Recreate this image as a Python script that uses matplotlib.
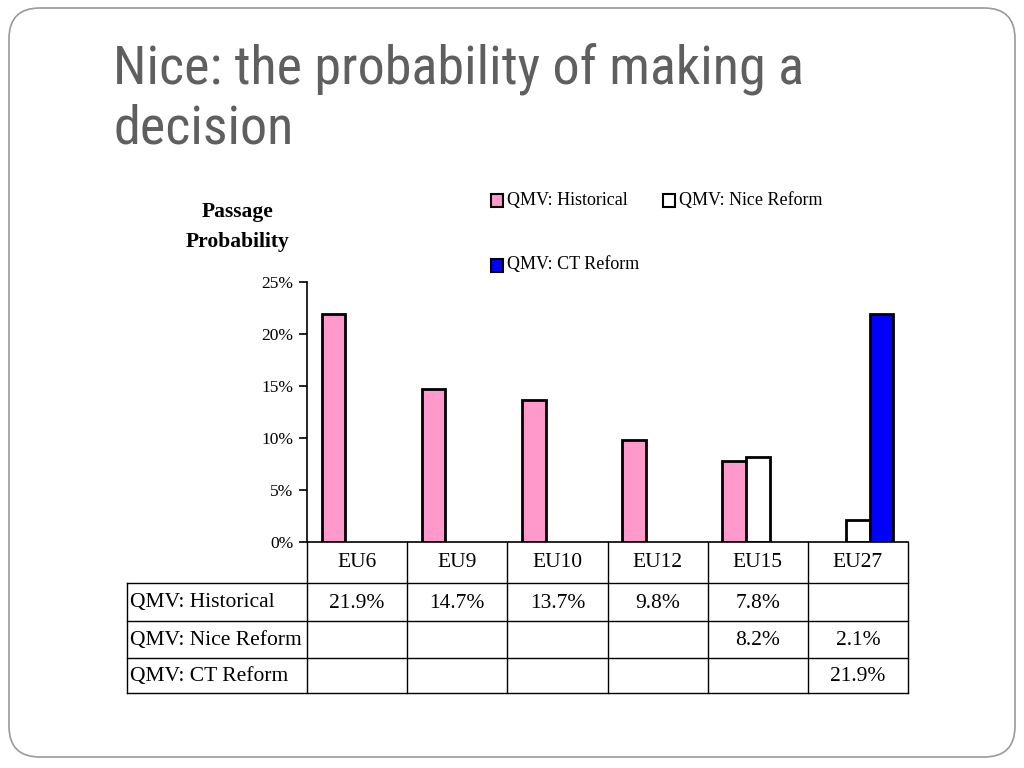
import matplotlib
matplotlib.use("Agg")
import matplotlib.pyplot as plt
from matplotlib.patches import FancyBboxPatch
from matplotlib import font_manager
import numpy as np

categories = ["EU6", "EU9", "EU10", "EU12", "EU15", "EU27"]
series_names = ["QMV: Historical", "QMV: Nice Reform", "QMV: CT Reform"]
historical = [21.9, 14.7, 13.7, 9.8, 7.8, None]
nice_reform = [None, None, None, None, 8.2, 2.1]
ct_reform = [None, None, None, None, None, 21.9]
yticks = [0, 5, 10, 15, 20, 25]
colors = ["#FF99CC", "#FFFFFF", "#0000FF"]

W, H = 1024, 768
fig = plt.figure(figsize=(W / 100, H / 100), dpi=100)

def fx(px):
    return px / W

def fy(py):
    return 1 - py / H

# slide border
border = FancyBboxPatch((fx(9), fy(757)), fx(1006), 749 / H,
                        boxstyle="round,pad=0,rounding_size=0.03",
                        transform=fig.transFigure, fill=False,
                        edgecolor="#9a9a9a", linewidth=1.2, mutation_aspect=W / H)
fig.patches.append(border)

installed = {f.name for f in font_manager.fontManager.ttflist}
title_font = [f for f in ["Roboto Condensed", "Liberation Sans Narrow", "Roboto"] if f in installed] + ["DejaVu Sans"]
tsize = 39 if title_font[0] in ("Roboto Condensed", "Liberation Sans Narrow") else 34
fig.text(fx(113), fy(84), "Nice: the probability of making a", fontsize=tsize,
         color="#5f5f5f", family=title_font, va="baseline", ha="left")
fig.text(fx(113), fy(143), "decision", fontsize=tsize,
         color="#5f5f5f", family=title_font, va="baseline", ha="left")

serif = ["Liberation Serif", "DejaVu Serif"]

ax_l, ax_r, ax_t, ax_b = 307, 908, 282, 542
ax = fig.add_axes([fx(ax_l), fy(ax_b), fx(ax_r - ax_l), (ax_b - ax_t) / H])
x = np.arange(len(categories))
bw = 0.235
all_series = [historical, nice_reform, ct_reform]
for i, (vals, c, name) in enumerate(zip(all_series, colors, series_names)):
    xs = [x[j] + (i - 1) * bw for j, v in enumerate(vals) if v is not None]
    vs = [v for v in vals if v is not None]
    ax.bar(xs, vs, width=bw, color=c, edgecolor="black", linewidth=2, label=name)

ax.set_xlim(-0.5, len(categories) - 0.5)
ax.set_ylim(0, 25)
ax.set_yticks(yticks)
ax.set_yticklabels([f"{t}%" for t in yticks], family=serif, fontsize=12.5)
ax.set_xticks([])
for s in ["top", "right"]:
    ax.spines[s].set_visible(False)
ax.spines["left"].set_linewidth(1.2)
ax.spines["bottom"].set_linewidth(1.2)
ax.tick_params(axis="y", length=5.8, width=1.2, pad=4)
ax.patch.set_alpha(0)

# y-axis title
fig.text(fx(238), fy(217), "Passage", family=serif, fontsize=15.5, fontweight="bold",
         ha="center", va="baseline")
fig.text(fx(238), fy(247), "Probability", family=serif, fontsize=15.5, fontweight="bold",
         ha="center", va="baseline")

# legend (manual placement to match)
leg_items = [(491, 200, 0), (663, 200, 1), (491, 265, 2)]
for lx, ly, k in leg_items:
    fig.patches.append(plt.Rectangle((fx(lx), fy(ly + 7)), fx(12), 13 / H,
                                     transform=fig.transFigure, facecolor=colors[k],
                                     edgecolor="black", linewidth=1.5))
    fig.text(fx(lx + 16), fy(ly), series_names[k], family=serif, fontsize=13,
             ha="left", va="center")

# data table
tab_left = 127
col_w = (ax_r - ax_l) / len(categories)
row_y = [542, 583, 621, 658, 693]
lw = 1.0
for j in range(len(categories) + 1):
    xx = ax_l + j * col_w
    fig.add_artist(plt.Line2D([fx(xx), fx(xx)], [fy(row_y[0]), fy(row_y[-1])],
                              color="black", linewidth=lw))
fig.add_artist(plt.Line2D([fx(tab_left), fx(tab_left)], [fy(row_y[1]), fy(row_y[-1])],
                          color="black", linewidth=lw))
for r in range(1, len(row_y)):
    fig.add_artist(plt.Line2D([fx(tab_left), fx(ax_r)], [fy(row_y[r]), fy(row_y[r])],
                              color="black", linewidth=lw))
tfs = 15.5
for j, cat in enumerate(categories):
    cx = ax_l + (j + 0.5) * col_w
    fig.text(fx(cx), fy((row_y[0] + row_y[1]) / 2), cat, family=serif, fontsize=tfs,
             ha="center", va="center")
for r, (name, vals) in enumerate(zip(series_names, all_series)):
    cy = (row_y[r + 1] + row_y[r + 2]) / 2 + 1
    fig.text(fx(tab_left + 3), fy(cy), name, family=serif, fontsize=tfs,
             ha="left", va="center")
    for j, v in enumerate(vals):
        if v is not None:
            cx = ax_l + (j + 0.5) * col_w
            fig.text(fx(cx), fy(cy), f"{v:.1f}%", family=serif, fontsize=tfs,
                     ha="center", va="center")

fig.savefig("out.png", dpi=100)
